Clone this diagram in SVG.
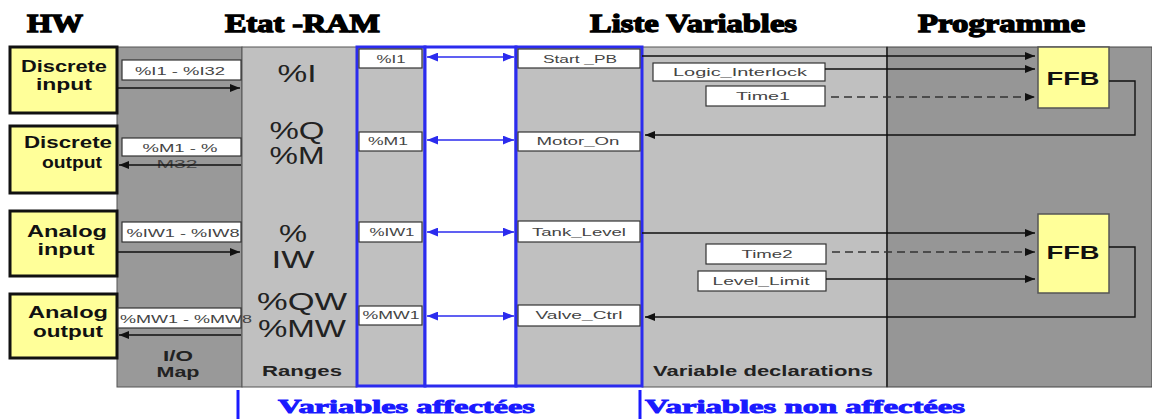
<svg xmlns="http://www.w3.org/2000/svg" width="1152" height="419" viewBox="0 0 1152 419">
<style>
.hdr{font-family:"Liberation Serif",serif;font-weight:bold;font-size:25px;fill:#000;stroke:#000;stroke-width:1.3}
.blu{font-family:"Liberation Serif",serif;font-weight:bold;font-size:19px;fill:#1a1aff;stroke:#1a1aff;stroke-width:0.9}
.hw{fill:#ffff99;stroke:#111;stroke-width:3}
.hwt{font-family:"Liberation Sans",Arial,sans-serif;font-weight:bold;font-size:16px;fill:#111;text-anchor:middle}
.big{font-family:"Liberation Sans",Arial,sans-serif;font-size:24px;fill:#222;text-anchor:middle}
.lab{font-family:"Liberation Sans",Arial,sans-serif;font-weight:bold;font-size:15px;fill:#222;text-anchor:middle}
.box{fill:#fff;stroke:#333;stroke-width:1.2}
.sm{font-family:"Liberation Sans",Arial,sans-serif;font-size:11px;fill:#444;text-anchor:middle}
.ln{stroke:#111;stroke-width:1.4;fill:none}
.dash{stroke:#333;stroke-width:1.4;fill:none;stroke-dasharray:8 5}
.bl{stroke:#2b2bee;stroke-width:1.4;fill:none}
.ffb{fill:#ffff99;stroke:#555;stroke-width:1.5}
.ffbt{font-family:"Liberation Sans",Arial,sans-serif;font-weight:bold;font-size:19px;fill:#111;text-anchor:middle}
</style>
<defs>
<marker id="ah" viewBox="0 0 10 8" refX="10" refY="4" markerWidth="10" markerHeight="8" markerUnits="userSpaceOnUse" orient="auto"><path d="M0,0 L10,4 L0,8 z" fill="#111"/></marker>
<marker id="bh" viewBox="0 0 10 8" refX="10" refY="4" markerWidth="11" markerHeight="9" markerUnits="userSpaceOnUse" orient="auto-start-reverse"><path d="M0,0 L10,4 L0,8 z" fill="#2b2bee"/></marker>
</defs>
<rect width="1152" height="419" fill="#fff"/>

<g id="headers">
<text class="hdr" x="27" y="32" textLength="56" lengthAdjust="spacingAndGlyphs">HW</text>
<text class="hdr" x="225" y="32" textLength="155" lengthAdjust="spacingAndGlyphs">Etat -RAM</text>
<text class="hdr" x="590" y="32" textLength="207" lengthAdjust="spacingAndGlyphs">Liste Variables</text>
<text class="hdr" x="918" y="32" textLength="167" lengthAdjust="spacingAndGlyphs">Programme</text>
</g>

<g id="panels">
<rect x="117" y="47" width="125" height="340" fill="#999999" stroke="#555" stroke-width="1"/>
<rect x="242" y="47" width="115" height="340" fill="#c0c0c0" stroke="#555" stroke-width="1"/>
<rect x="642" y="47" width="245" height="340" fill="#c0c0c0" stroke="#555" stroke-width="1"/>
<rect x="887" y="47" width="265" height="340" fill="#969696" stroke="#444" stroke-width="1"/>
<line x1="887" y1="47" x2="887" y2="387" stroke="#333" stroke-width="2"/>
<rect x="357" y="47" width="68" height="339" fill="#c0c0c0" stroke="#2b2bee" stroke-width="3"/>
<rect x="425" y="47" width="91" height="339" fill="#fff" stroke="#2b2bee" stroke-width="3"/>
<rect x="516" y="47" width="126" height="339" fill="#c0c0c0" stroke="#2b2bee" stroke-width="3"/>
</g>

<g id="hw-discrete-input"><rect class="hw" x="10" y="47" width="107" height="66"/><text class="hwt" x="64" y="72" textLength="86" lengthAdjust="spacingAndGlyphs">Discrete</text><text class="hwt" x="64" y="90" textLength="56" lengthAdjust="spacingAndGlyphs">input</text></g>
<g id="hw-discrete-output"><rect class="hw" x="10" y="126" width="107" height="67"/><text class="hwt" x="68" y="148" textLength="88" lengthAdjust="spacingAndGlyphs">Discrete</text><text class="hwt" x="72" y="168" textLength="60" lengthAdjust="spacingAndGlyphs">output</text></g>
<g id="hw-analog-input"><rect class="hw" x="10" y="211" width="107" height="65"/><text class="hwt" x="67" y="237" textLength="80" lengthAdjust="spacingAndGlyphs">Analog</text><text class="hwt" x="66" y="255" textLength="57" lengthAdjust="spacingAndGlyphs">input</text></g>
<g id="hw-analog-output"><rect class="hw" x="10" y="294" width="107" height="64"/><text class="hwt" x="68" y="318" textLength="80" lengthAdjust="spacingAndGlyphs">Analog</text><text class="hwt" x="68" y="337" textLength="70" lengthAdjust="spacingAndGlyphs">output</text></g>

<g id="io-map">
<rect class="box" x="122" y="60" width="119" height="20"/><text class="sm" x="180" y="75" textLength="90" lengthAdjust="spacingAndGlyphs">%I1 - %I32</text>
<rect class="box" x="122" y="138" width="119" height="18"/><text class="sm" x="180" y="152" textLength="75" lengthAdjust="spacingAndGlyphs">%M1 - %</text><text class="sm" x="177" y="168" textLength="41" lengthAdjust="spacingAndGlyphs">M32</text>
<rect class="box" x="122" y="222" width="119" height="20"/><text class="sm" x="183" y="237" textLength="113" lengthAdjust="spacingAndGlyphs">%IW1 - %IW8</text>
<rect class="box" x="118" y="308" width="123" height="20"/><text class="sm" x="186" y="323" textLength="132" lengthAdjust="spacingAndGlyphs">%MW1 - %MW8</text>
<text class="lab" x="178" y="361" textLength="30" lengthAdjust="spacingAndGlyphs">I/O</text><text class="lab" x="178" y="377" textLength="43" lengthAdjust="spacingAndGlyphs">Map</text>
</g>

<g id="ranges">
<text class="big" x="297" y="82" textLength="39" lengthAdjust="spacingAndGlyphs">%I</text>
<text class="big" x="297" y="139" textLength="55" lengthAdjust="spacingAndGlyphs">%Q</text>
<text class="big" x="297" y="164" textLength="55" lengthAdjust="spacingAndGlyphs">%M</text>
<text class="big" x="293" y="242" textLength="28" lengthAdjust="spacingAndGlyphs">%</text>
<text class="big" x="293" y="268" textLength="43" lengthAdjust="spacingAndGlyphs">IW</text>
<text class="big" x="302" y="310" textLength="90" lengthAdjust="spacingAndGlyphs">%QW</text>
<text class="big" x="302" y="337" textLength="88" lengthAdjust="spacingAndGlyphs">%MW</text>
<text class="lab" x="302" y="376" textLength="80" lengthAdjust="spacingAndGlyphs">Ranges</text>
</g>

<g id="addresses">
<rect class="box" x="359" y="49" width="63" height="19"/><text class="sm" x="391" y="63" textLength="29" lengthAdjust="spacingAndGlyphs">%I1</text>
<rect class="box" x="359" y="132" width="63" height="19"/><text class="sm" x="388" y="145" textLength="40" lengthAdjust="spacingAndGlyphs">%M1</text>
<rect class="box" x="359" y="222" width="63" height="20"/><text class="sm" x="392" y="236" textLength="45" lengthAdjust="spacingAndGlyphs">%IW1</text>
<rect class="box" x="359" y="306" width="63" height="19"/><text class="sm" x="391" y="319" textLength="57" lengthAdjust="spacingAndGlyphs">%MW1</text>
</g>

<g id="variables">
<rect class="box" x="518" y="49" width="122" height="19"/><text class="sm" x="580" y="63" textLength="74" lengthAdjust="spacingAndGlyphs">Start _PB</text>
<rect class="box" x="518" y="132" width="122" height="19"/><text class="sm" x="578" y="145" textLength="83" lengthAdjust="spacingAndGlyphs">Motor_On</text>
<rect class="box" x="518" y="221" width="122" height="21"/><text class="sm" x="579" y="236" textLength="94" lengthAdjust="spacingAndGlyphs">Tank_Level</text>
<rect class="box" x="518" y="305" width="122" height="21"/><text class="sm" x="579" y="319" textLength="87" lengthAdjust="spacingAndGlyphs">Valve_Ctrl</text>
</g>

<g id="declarations">
<rect class="box" x="653" y="63" width="172" height="18"/><text class="sm" x="740" y="76" textLength="134" lengthAdjust="spacingAndGlyphs">Logic_Interlock</text>
<rect class="box" x="706" y="86" width="119" height="20"/><text class="sm" x="763" y="100" textLength="54" lengthAdjust="spacingAndGlyphs">Time1</text>
<rect class="box" x="706" y="244" width="120" height="20"/><text class="sm" x="767" y="258" textLength="51" lengthAdjust="spacingAndGlyphs">Time2</text>
<rect class="box" x="698" y="271" width="128" height="20"/><text class="sm" x="761" y="285" textLength="97" lengthAdjust="spacingAndGlyphs">Level_Limit</text>
<text class="lab" x="763" y="376" textLength="220" lengthAdjust="spacingAndGlyphs">Variable declarations</text>
</g>

<g id="ffb1"><rect class="ffb" x="1038" y="47" width="71" height="61"/><text class="ffbt" x="1073" y="85" textLength="53" lengthAdjust="spacingAndGlyphs">FFB</text></g>
<g id="ffb2"><rect class="ffb" x="1038" y="214" width="71" height="79"/><text class="ffbt" x="1073" y="259" textLength="53" lengthAdjust="spacingAndGlyphs">FFB</text></g>

<g id="connectors">
<line class="ln" x1="117" y1="88" x2="240" y2="88" marker-end="url(#ah)"/>
<line class="ln" x1="241" y1="165" x2="119" y2="165" marker-end="url(#ah)"/>
<line class="ln" x1="117" y1="252" x2="240" y2="252" marker-end="url(#ah)"/>
<line class="ln" x1="241" y1="335" x2="119" y2="335" marker-end="url(#ah)"/>
<line class="bl" x1="427" y1="57" x2="514" y2="57" marker-start="url(#bh)" marker-end="url(#bh)"/>
<line class="bl" x1="427" y1="140" x2="514" y2="140" marker-start="url(#bh)" marker-end="url(#bh)"/>
<line class="bl" x1="427" y1="232" x2="514" y2="232" marker-start="url(#bh)" marker-end="url(#bh)"/>
<line class="bl" x1="427" y1="316" x2="514" y2="316" marker-start="url(#bh)" marker-end="url(#bh)"/>
<line class="ln" x1="642" y1="56" x2="1035" y2="56" marker-end="url(#ah)"/>
<line class="ln" x1="825" y1="69" x2="1035" y2="69" marker-end="url(#ah)"/>
<line class="dash" x1="831" y1="97" x2="1035" y2="97" marker-end="url(#ah)"/>
<polyline class="ln" points="1109,81 1135,81 1135,135 645,135" marker-end="url(#ah)"/>
<line class="ln" x1="642" y1="233" x2="1035" y2="233" marker-end="url(#ah)"/>
<line class="dash" x1="832" y1="252" x2="1035" y2="252" marker-end="url(#ah)"/>
<line class="ln" x1="826" y1="279" x2="1035" y2="279" marker-end="url(#ah)"/>
<polyline class="ln" points="1109,247 1135,247 1135,317 645,317" marker-end="url(#ah)"/>
</g>

<g id="footer">
<line x1="238" y1="390" x2="238" y2="419" stroke="#1a1aff" stroke-width="3"/>
<text class="blu" x="278" y="413" textLength="257" lengthAdjust="spacingAndGlyphs">Variables affectées</text>
<line x1="640" y1="390" x2="640" y2="419" stroke="#1a1aff" stroke-width="3"/>
<text class="blu" x="645" y="413" textLength="320" lengthAdjust="spacingAndGlyphs">Variables non affectées</text>
</g>
</svg>
